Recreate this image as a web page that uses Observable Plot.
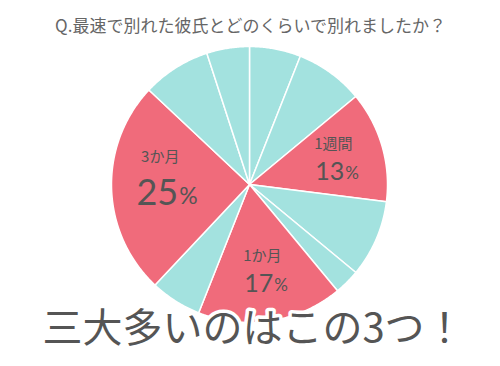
<!DOCTYPE html>
<html>
<head>
<meta charset="utf-8">
<script src="https://cdn.jsdelivr.net/npm/d3@7"></script>
<script src="https://cdn.jsdelivr.net/npm/@observablehq/plot@0.6"></script>
<style>
  html, body { margin: 0; padding: 0; background: #fff; }
  #chart { width: 500px; height: 366px; }
</style>
</head>
<body>
<div id="chart"></div>
<script>
// ---- data ----
const categories = ["1日", "3日", "1週間", "2週間", "3週間", "1か月", "2か月", "3か月", "半年", "1年以上"];
const values = [6, 8, 13, 9, 3, 17, 6, 25, 8, 5];
const topThree = ["1週間", "1か月", "3か月"];
const titleText = "Q.最速で別れた彼氏とどのくらいで別れましたか？";
const captionText = "三大多いのはこの3つ！";

// ---- layout ----
const W = 500, H = 366;
const cxPx = 249, cyPx = 184, rPx = 138;
const pink = "#F06B7B", teal = "#A3E2DF", ink = "#555555";

const total = d3.sum(values);
const slices = d3.pie().sort(null).value(d => d.value)(
  categories.map((c, i) => ({category: c, value: values[i]}))
);

// polygon vertices (unit circle, y up, clockwise from 12 o'clock)
const polyPts = [];
slices.forEach(s => {
  const grp = s.data.category;
  const kind = topThree.includes(grp) ? "top" : "other";
  polyPts.push({grp, kind, x: 0, y: 0});
  const n = Math.max(2, Math.ceil((s.endAngle - s.startAngle) / (Math.PI / 360)));
  for (let k = 0; k <= n; k++) {
    const a = s.startAngle + (s.endAngle - s.startAngle) * k / n;
    polyPts.push({grp, kind, x: Math.sin(a), y: Math.cos(a)});
  }
  polyPts.push({grp, kind, x: 0, y: 0});
});

// label anchors
const labelR = 0.64;
const labels = slices.filter(s => topThree.includes(s.data.category)).map(s => {
  const m = (s.startAngle + s.endAngle) / 2;
  return {
    category: s.data.category,
    pct: String(Math.round(s.data.value / total * 100)),
    big: s.data.value >= 20,
    x: labelR * Math.sin(m),
    y: labelR * Math.cos(m)
  };
});
const bigL = labels.filter(d => d.big), smallL = labels.filter(d => !d.big);

const chart = Plot.plot({
  width: W, height: H,
  margin: 0,
  x: {domain: [-cxPx / rPx, (W - cxPx) / rPx], axis: null},
  y: {domain: [-(H - cyPx) / rPx, cyPx / rPx], axis: null},
  color: {domain: ["other", "top"], range: [teal, pink]},
  style: {background: "#fff"},
  marks: [
    Plot.line(polyPts, {x: "x", y: "y", z: "grp", fill: "kind", stroke: "#fff", strokeWidth: 1.5, strokeLinejoin: "round", curve: "linear"}),
    // small labels
    Plot.text(smallL, {x: "x", y: "y", text: "category", dy: -16, dx: -1, fill: ink, fontSize: 15, fontFamily: "Noto Sans CJK JP", textAnchor: "middle"}),
    Plot.text(smallL, {x: "x", y: "y", text: "pct", dy: 12, dx: 10, fill: ink, fontSize: 25, fontFamily: "Lato", textAnchor: "end"}),
    Plot.text(smallL, {x: "x", y: "y", text: () => "%", dy: 14, dx: 11, fill: ink, fontSize: 17, fontFamily: "Lato", textAnchor: "start"}),
    // big label
    Plot.text(bigL, {x: "x", y: "y", text: "category", dy: -30, dx: -1, fill: ink, fontSize: 15, fontFamily: "Noto Sans CJK JP", textAnchor: "middle"}),
    Plot.text(bigL, {x: "x", y: "y", text: "pct", dy: 6, dx: 17, fill: ink, fontSize: 36, fontFamily: "Lato", textAnchor: "end"}),
    Plot.text(bigL, {x: "x", y: "y", text: () => "%", dy: 9, dx: 18, fill: ink, fontSize: 23, fontFamily: "Lato", textAnchor: "start"}),
    // title
    Plot.text([titleText], {frameAnchor: "top", dy: 19, lineAnchor: "top", fill: "#666", fontSize: 17, fontFamily: "Noto Sans CJK JP"}),
    // caption
    Plot.text([captionText], {frameAnchor: "bottom", dy: -37, dx: 3, lineAnchor: "middle", fill: ink, fontSize: 40, fontFamily: "Noto Sans CJK JP", stroke: "#fff", strokeWidth: 7, strokeLinejoin: "round"})
  ]
});
document.getElementById("chart").append(chart);
</script>
</body>
</html>
